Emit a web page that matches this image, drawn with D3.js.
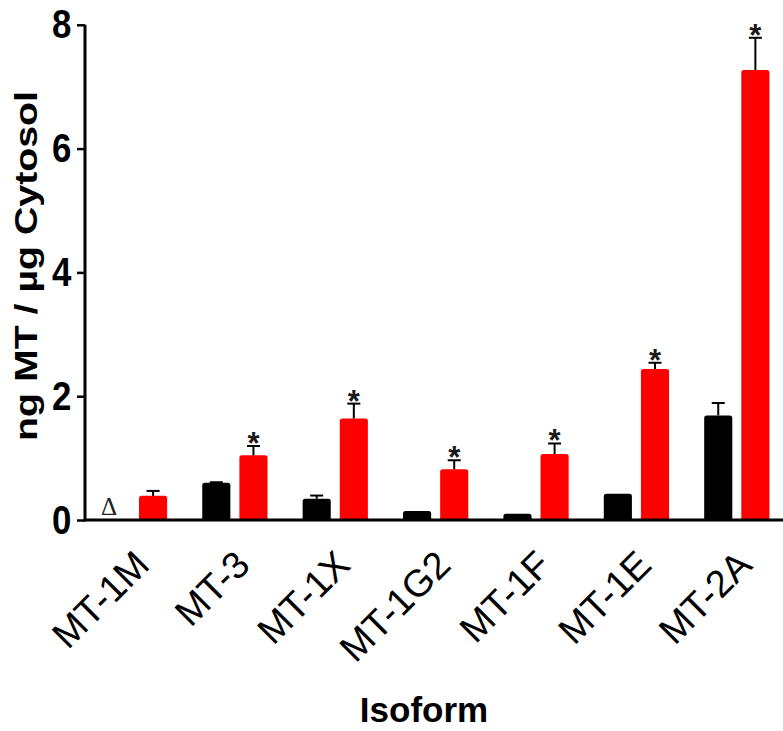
<!DOCTYPE html>
<html>
<head>
<meta charset="utf-8">
<script src="https://cdn.jsdelivr.net/npm/d3@7"></script>
<style>
  html, body { margin: 0; padding: 0; background: #fff; }
  svg { display: block; }
</style>
</head>
<body>
<script>
// ---- data ----
const categories = ["MT-1M", "MT-3", "MT-1X", "MT-1G2", "MT-1F", "MT-1E", "MT-2A"];
const seriesNames = ["control", "treated"];
const controlValues = [null, 0.60, 0.345, 0.145, 0.10, 0.425, 1.69];
const controlErrors = [null, 0.01, 0.05, 0.0, 0.0, 0.0, 0.20];
const treatedValues = [0.39, 1.045, 1.64, 0.82, 1.066, 2.44, 7.27];
const treatedErrors = [0.08, 0.15, 0.24, 0.145, 0.17, 0.10, 0.52];
const treatedSignificant = [false, true, true, true, true, true, true];
const notDetected = ["MT-1M"];           // marked with Δ
const yTicks = [0, 2, 4, 6, 8];
const yTitle = "ng MT / µg Cytosol";
const xTitle = "Isoform";
const seriesColors = ["#000000", "#ff0000"];

// ---- layout ----
const W = 783, H = 731;
const svg = d3.select("body").append("svg").attr("width", W).attr("height", H);

const x0 = d3.scaleBand().domain(categories).range([84.3, 787]).paddingInner(0).paddingOuter(0);
const x1 = d3.scaleBand().domain(seriesNames).range([x0.bandwidth() * 0.13, x0.bandwidth() * 0.87])
  .paddingInner(0.243).paddingOuter(0.1216);
const y = d3.scaleLinear().domain([0, 8]).range([520, 24.8]);

const rows = [];
categories.forEach((c, i) => {
  rows.push({cat: c, s: "control", v: controlValues[i], e: controlErrors[i], sig: false, color: seriesColors[0]});
  rows.push({cat: c, s: "treated", v: treatedValues[i], e: treatedErrors[i], sig: treatedSignificant[i], color: seriesColors[1]});
});
const valid = rows.filter(d => d.v != null);

// bars
svg.append("g").selectAll("path.bar").data(valid).join("path")
  .attr("class", "bar")
  .attr("fill", d => d.color)
  .attr("d", d => {
    const xl = x0(d.cat) + x1(d.s), w = x1.bandwidth();
    const yt = y(d.v), yb = y(0), r = Math.min(2.5, (yb - yt) / 2);
    return `M${xl},${yb} L${xl},${yt + r} Q${xl},${yt} ${xl + r},${yt} L${xl + w - r},${yt} Q${xl + w},${yt} ${xl + w},${yt + r} L${xl + w},${yb} Z`;
  });

// error bars (upper only)
const eb = svg.append("g").attr("stroke", "#000").attr("stroke-width", 2).attr("fill", "none");
valid.filter(d => d.e > 0).forEach(d => {
  const cx = x0(d.cat) + x1(d.s) + x1.bandwidth() / 2;
  eb.append("line").attr("x1", cx).attr("x2", cx).attr("y1", y(d.v)).attr("y2", y(d.v + d.e));
  eb.append("line").attr("x1", cx - 6.5).attr("x2", cx + 6.5).attr("y1", y(d.v + d.e)).attr("y2", y(d.v + d.e));
});

// significance asterisks
const starFs = 31;
svg.append("g").selectAll("text.star").data(valid.filter(d => d.sig)).join("text")
  .attr("class", "star")
  .attr("x", d => x0(d.cat) + x1(d.s) + x1.bandwidth() / 2)
  .attr("y", d => y(d.v + d.e) - 10 + 0.58 * starFs)
  .attr("text-anchor", "middle")
  .attr("font-family", "'Liberation Sans', Arial, sans-serif")
  .attr("font-weight", "bold")
  .attr("font-size", starFs)
  .attr("fill", "#1a1a1a")
  .text("*");

// not-detected marker
svg.append("g").selectAll("text.nd").data(notDetected).join("text")
  .attr("class", "nd")
  .attr("x", d => x0(d) + x1("control") + x1.bandwidth() / 2 - 7)
  .attr("y", 515)
  .attr("text-anchor", "middle")
  .attr("font-family", "'Liberation Serif', 'Times New Roman', serif")
  .attr("font-size", 25)
  .attr("fill", "#222")
  .text("Δ");

// y axis
const yAxis = svg.append("g").attr("transform", "translate(85,0)")
  .call(d3.axisLeft(y).tickValues(yTicks).tickSize(8).tickPadding(8).tickFormat(d3.format("d")));
yAxis.select(".domain").attr("stroke-width", 3).attr("d", `M0,${y(8)}V${y(0) + 1.5}`);
yAxis.selectAll(".tick line").attr("stroke-width", 2.5);
yAxis.selectAll(".tick text")
  .attr("font-family", "'Liberation Sans', Arial, sans-serif")
  .attr("font-weight", "bold")
  .attr("font-size", 41)
  .attr("fill", "#000")
  .attr("transform", "scale(0.85,1)");

// x axis line
svg.append("line").attr("x1", 85).attr("x2", W).attr("y1", y(0)).attr("y2", y(0))
  .attr("stroke", "#000").attr("stroke-width", 3);

// x tick labels
svg.append("g").selectAll("text.xl").data(categories).join("text")
  .attr("class", "xl")
  .attr("transform", d => `translate(${x0(d) + x0.bandwidth() / 2 + 17},567) rotate(-45)`)
  .attr("text-anchor", "end")
  .attr("font-family", "'Liberation Sans', Arial, sans-serif")
  .attr("font-size", 38)
  .attr("fill", "#000")
  .text(d => d);

// axis titles
svg.append("text")
  .attr("transform", "translate(37,266) rotate(-90)")
  .attr("text-anchor", "middle")
  .attr("font-family", "'Liberation Sans', Arial, sans-serif")
  .attr("font-weight", "bold")
  .attr("font-size", 31)
  .attr("textLength", 350)
  .attr("lengthAdjust", "spacingAndGlyphs")
  .text(yTitle);

svg.append("text")
  .attr("x", 424).attr("y", 722)
  .attr("text-anchor", "middle")
  .attr("font-family", "'Liberation Sans', Arial, sans-serif")
  .attr("font-weight", "bold")
  .attr("font-size", 35)
  .text(xTitle);
</script>
</body>
</html>
